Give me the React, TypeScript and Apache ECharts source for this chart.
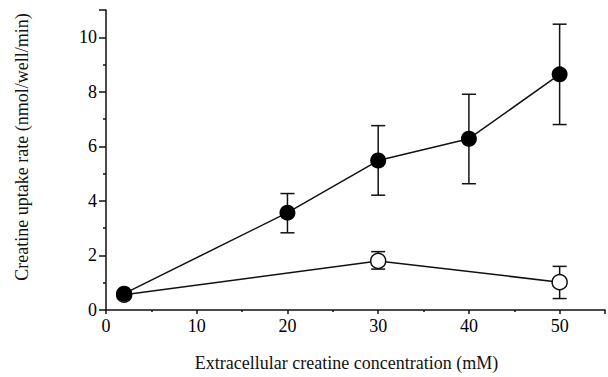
import React, { useEffect, useRef } from "react";
import * as echarts from "echarts";

const filledX = [2, 20, 30, 40, 50];
const filledY = [0.6, 3.57, 5.48, 6.28, 8.64];
const filledLow = [null, 2.83, 4.21, 4.63, 6.8];
const filledHigh = [null, 4.27, 6.76, 7.91, 10.48];

const openX = [2, 30, 50];
const openY = [0.56, 1.8, 1.02];
const openLow = [null, 1.5, 0.42];
const openHigh = [null, 2.14, 1.6];

const xMajorTicks = [0, 10, 20, 30, 40, 50];
const yMajorTicks = [0, 2, 4, 6, 8, 10];

const FONT = "Liberation Serif";

function errData(xs: number[], lows: (number | null)[], highs: (number | null)[]) {
  const out: number[][] = [];
  xs.forEach((x, i) => {
    if (lows[i] != null && highs[i] != null) out.push([x, lows[i] as number, highs[i] as number]);
  });
  return out;
}

function errorSeries(data: number[][]) {
  return {
    type: "custom",
    data,
    z: 1,
    renderItem: (_params: any, api: any) => {
      const x = api.value(0);
      const lo = api.coord([x, api.value(1)]);
      const hi = api.coord([x, api.value(2)]);
      const hw = 7;
      const style = { stroke: "#111", lineWidth: 1.5, fill: "none" };
      return {
        type: "group",
        children: [
          { type: "line", shape: { x1: lo[0], y1: lo[1], x2: hi[0], y2: hi[1] }, style },
          { type: "line", shape: { x1: lo[0] - hw, y1: lo[1], x2: lo[0] + hw, y2: lo[1] }, style },
          { type: "line", shape: { x1: hi[0] - hw, y1: hi[1], x2: hi[0] + hw, y2: hi[1] }, style },
        ],
      };
    },
  };
}

export default function App() {
  const ref = useRef<HTMLDivElement>(null);
  useEffect(() => {
    if (!ref.current) return;
    const chart = echarts.init(ref.current, null, { renderer: "svg" });
    const axisLineStyle = { color: "#111", width: 1.5 };
    chart.setOption({
      animation: false,
      backgroundColor: "#fff",
      textStyle: { fontFamily: FONT },
      grid: { left: 106, right: 0, top: 10, bottom: 62 },
      xAxis: {
        type: "value",
        min: 0,
        max: 55,
        interval: 10,
        name: "Extracellular creatine concentration (mM)",
        nameLocation: "middle",
        nameGap: 44,
        nameTextStyle: { fontFamily: FONT, fontSize: 18, color: "#111", padding: [0, 18, 0, 0] },
        axisLine: { show: true, onZero: false, lineStyle: axisLineStyle },
        axisTick: { show: true, inside: false, length: 4, lineStyle: axisLineStyle },
        minorTick: { show: true, splitNumber: 2, length: 2, lineStyle: axisLineStyle },
        axisLabel: {
          margin: 7,
          fontFamily: FONT,
          fontSize: 18,
          color: "#000",
          formatter: (v: number) => (xMajorTicks.indexOf(v) >= 0 ? String(v) : ""),
        },
        splitLine: { show: false },
      },
      yAxis: {
        type: "value",
        min: 0,
        max: 11,
        interval: 2,
        name: "Creatine uptake rate (nmol/well/min)",
        nameLocation: "middle",
        nameGap: 75,
        nameTextStyle: { fontFamily: FONT, fontSize: 18, color: "#111", padding: [0, 0, 0, 26] },
        axisLine: { show: true, onZero: false, lineStyle: axisLineStyle },
        axisTick: { show: true, inside: false, length: 7, lineStyle: axisLineStyle },
        minorTick: { show: true, splitNumber: 2, length: 3, lineStyle: axisLineStyle },
        axisLabel: {
          margin: 9,
          fontFamily: FONT,
          fontSize: 18,
          color: "#000",
          formatter: (v: number) => (yMajorTicks.indexOf(v) >= 0 ? String(v) : ""),
        },
        splitLine: { show: false },
      },
      series: [
        errorSeries(errData(openX, openLow, openHigh)),
        {
          type: "line",
          data: openX.map((x, i) => [x, openY[i]]),
          symbol: "circle",
          symbolSize: 15,
          z: 2,
          lineStyle: { color: "#111", width: 1.5 },
          itemStyle: { color: "#fff", borderColor: "#111", borderWidth: 1.5 },
        },
        errorSeries(errData(filledX, filledLow, filledHigh)),
        {
          type: "line",
          data: filledX.map((x, i) => [x, filledY[i]]),
          symbol: "circle",
          symbolSize: 16,
          z: 3,
          lineStyle: { color: "#111", width: 1.5 },
          itemStyle: { color: "#000", borderColor: "#000", borderWidth: 0 },
        },
      ],
    });
    return () => chart.dispose();
  }, []);
  return <div ref={ref} style={{ position: "fixed", left: 0, top: 0, width: 608, height: 377 }} />;
}
